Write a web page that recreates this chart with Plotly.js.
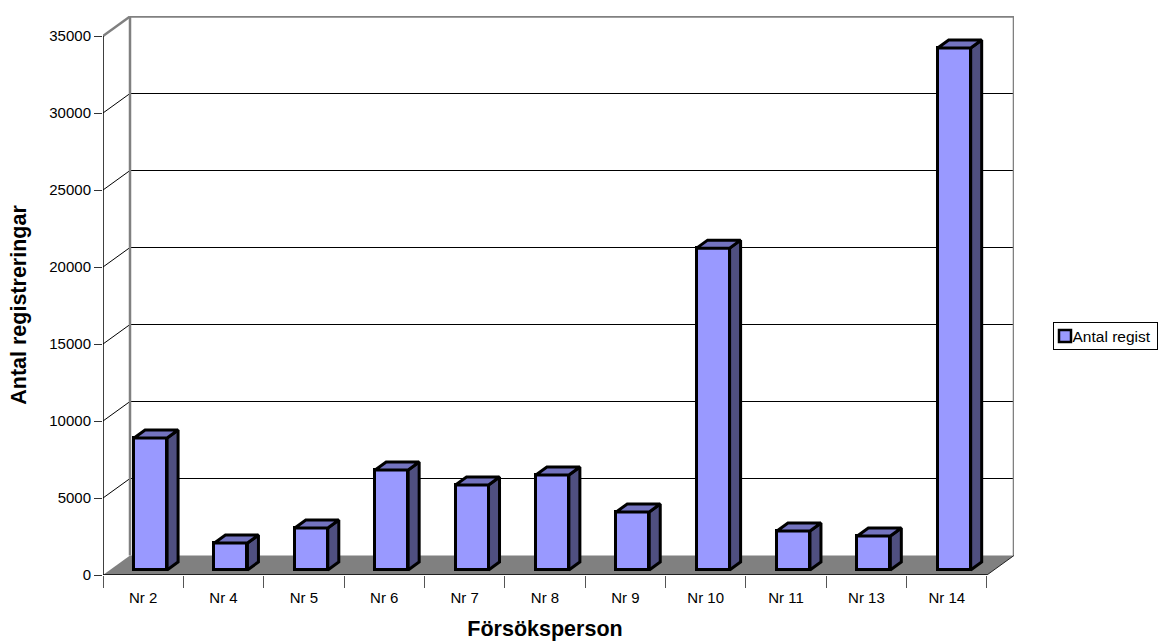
<!DOCTYPE html>
<html><head><meta charset="utf-8">
<script src="https://cdn.plot.ly/plotly-3.0.1.min.js"></script>
<style>html,body{margin:0;padding:0;background:#fff}#c{width:1158px;height:641px}</style>
</head><body><div id="c"></div>
<script>
var categories = ["Nr 2","Nr 4","Nr 5","Nr 6","Nr 7","Nr 8","Nr 9","Nr 10","Nr 11","Nr 13","Nr 14"];
var values = [8570,1750,2730,6490,5520,6170,3770,20900,2530,2210,33900];
var yTicks = [0,5000,10000,15000,20000,25000,30000,35000];
var seriesName = "Antal regist";

// scale factors between data units and pixels of the plot area
var PX_X = 80.36, PX_Y = 539/35000;
var L = 103, T = 16, B = 575, R = 1014, W = 1158, H = 641;
var xMax = (R-L)/PX_X, yMax = (B-T)/PX_Y;
var n = categories.length, yTop = yTicks[yTicks.length-1];
var wallDx = 27/PX_X, wallDy = 19.5/PX_Y;    // depth of the chart box
var barDx = 11/PX_X, barDy = 8/PX_Y;         // depth of one bar
var barW = 33/PX_X, barShift = 7.4/PX_X, barBase = 5/PX_Y;

var centers = categories.map(function(c,i){return i+0.5;});
var barX = centers.map(function(c){return c+barShift;});
var sideX=[],sideY=[],topX=[],topY=[];
values.forEach(function(v,i){
  var r = barX[i]+barW/2, l = barX[i]-barW/2, t = barBase+v;
  sideX.push(r,r+barDx,r+barDx,r,r,null);
  sideY.push(barBase,barBase+barDy,t+barDy,t,barBase,null);
  topX.push(l,l+barDx,r+barDx,r,l,null);
  topY.push(t,t+barDy,t+barDy,t,t,null);
});

function seg(x0,y0,x1,y1,color,w){
  return {type:'line',xref:'x',yref:'y',layer:'below',x0:x0,y0:y0,x1:x1,y1:y1,line:{color:color,width:w}};
}
var shapes = [{type:'path',xref:'x',yref:'y',layer:'below',line:{width:0},fillcolor:'#808080',
  path:'M0,0 L'+n+',0 L'+(n+wallDx)+','+wallDy+' L'+wallDx+','+wallDy+' Z'}];
yTicks.slice(1,-1).forEach(function(t){
  shapes.push(seg(0,t,wallDx,t+wallDy,'#000',1));
  shapes.push(seg(wallDx,t+wallDy,n+wallDx,t+wallDy,'#000',1));
});
shapes.push(seg(wallDx,wallDy,wallDx,yTop+wallDy,'#808080',2.5));
shapes.push(seg(n+wallDx,wallDy,n+wallDx,yTop+wallDy,'#808080',2.5));
shapes.push(seg(wallDx,yTop+wallDy,n+wallDx,yTop+wallDy,'#808080',2.5));
shapes.push(seg(0,yTop,wallDx,yTop+wallDy,'#808080',2.5));
shapes.push(seg(n,0,n+wallDx,wallDy,'#222',1));
shapes.push(seg(0,0,0,yTop,'#000',1.5));
shapes.push(seg(0,0,n,0,'#000',1.5));

var font = {family:'"Liberation Sans",Arial,sans-serif',color:'#000'};
function f(s,extra){return Object.assign({},font,{size:s},extra||{});}

var data = [
 {type:'bar',name:seriesName,x:barX,y:values,base:barBase,width:barW,showlegend:true,
  marker:{color:'#9999FF',line:{color:'#000',width:3}}},
 {type:'scatter',mode:'lines',x:sideX,y:sideY,fill:'toself',fillcolor:'#4F4F80',showlegend:false,hoverinfo:'skip',
  line:{color:'#000',width:3,shape:'linear'}},
 {type:'scatter',mode:'lines',x:topX,y:topY,fill:'toself',fillcolor:'#7373BF',showlegend:false,hoverinfo:'skip',
  line:{color:'#000',width:3,shape:'linear'}}
];
var plotW = R-L, plotH = B-T;
var layout = {
  width:W,height:H,paper_bgcolor:'#fff',plot_bgcolor:'#fff',
  margin:{l:L,r:W-R,t:T,b:H-B,pad:0,autoexpand:false},
  bargap:0,shapes:shapes,font:f(15),
  xaxis:{range:[0,xMax],showgrid:false,zeroline:false,showline:false,
    tickmode:'array',tickvals:centers,ticktext:categories,ticks:'outside',ticklen:9,tickcolor:'rgba(0,0,0,0)',tickfont:f(15),
    minor:{tickmode:'array',tickvals:categories.map(function(c,i){return i;}).concat([n]),ticks:'outside',ticklen:12,tickwidth:1,tickcolor:'#555',showgrid:false},
    title:{text:'Försöksperson',font:f(21.5,{weight:'bold'}),standoff:17},automargin:false},
  yaxis:{range:[0,yMax],showgrid:false,zeroline:false,showline:false,
    tickmode:'array',tickvals:yTicks,ticktext:yTicks.map(String),ticks:'outside',ticklen:8,tickwidth:1,tickcolor:'#333',tickfont:f(15),
    title:{text:'Antal registreringar',font:f(21.5,{weight:'bold'}),standoff:16},automargin:false},
  legend:{x:(1053-L)/plotW,xanchor:'left',y:(B-322)/plotH,yanchor:'top',orientation:'v',
    bordercolor:'#000',borderwidth:1,bgcolor:'#fff',font:f(15.5),itemwidth:30,itemclick:false,itemdoubleclick:false},
  hovermode:false
};
Plotly.newPlot('c',data,layout,{displayModeBar:false}).then(function(gd){
  // Legend compacted to the reference's proportions
  var txt=document.querySelector('.legend .legendtext'); if(txt) txt.setAttribute('x',18.5);
  var pts=document.querySelector('.legend .legendpoints path');
  if(pts){pts.setAttribute('transform','translate(11,0)');pts.style.strokeWidth='2.5px';}
  var bg=document.querySelector('.legend rect.bg'); if(bg){bg.setAttribute('width',104);bg.setAttribute('height',27);}
  var tr=document.querySelector('.legend .traces');
  if(tr){var m=/translate\(([-\d.]+)[ ,]+([-\d.]+)\)/.exec(tr.getAttribute('transform'));
    if(m) tr.setAttribute('transform','translate('+m[1]+','+(parseFloat(m[2])-3.5)+')');}
  // Axis titles centred on the front plane of the box, not on the whole plot area
  var xt=document.querySelector('.xtitle'); if(xt) xt.setAttribute('x',545);
  var yt=document.querySelector('.ytitle');
  if(yt){var x=yt.getAttribute('x');yt.setAttribute('y',305);yt.setAttribute('transform','rotate(-90,'+x+',305)');}
});
</script></body></html>
